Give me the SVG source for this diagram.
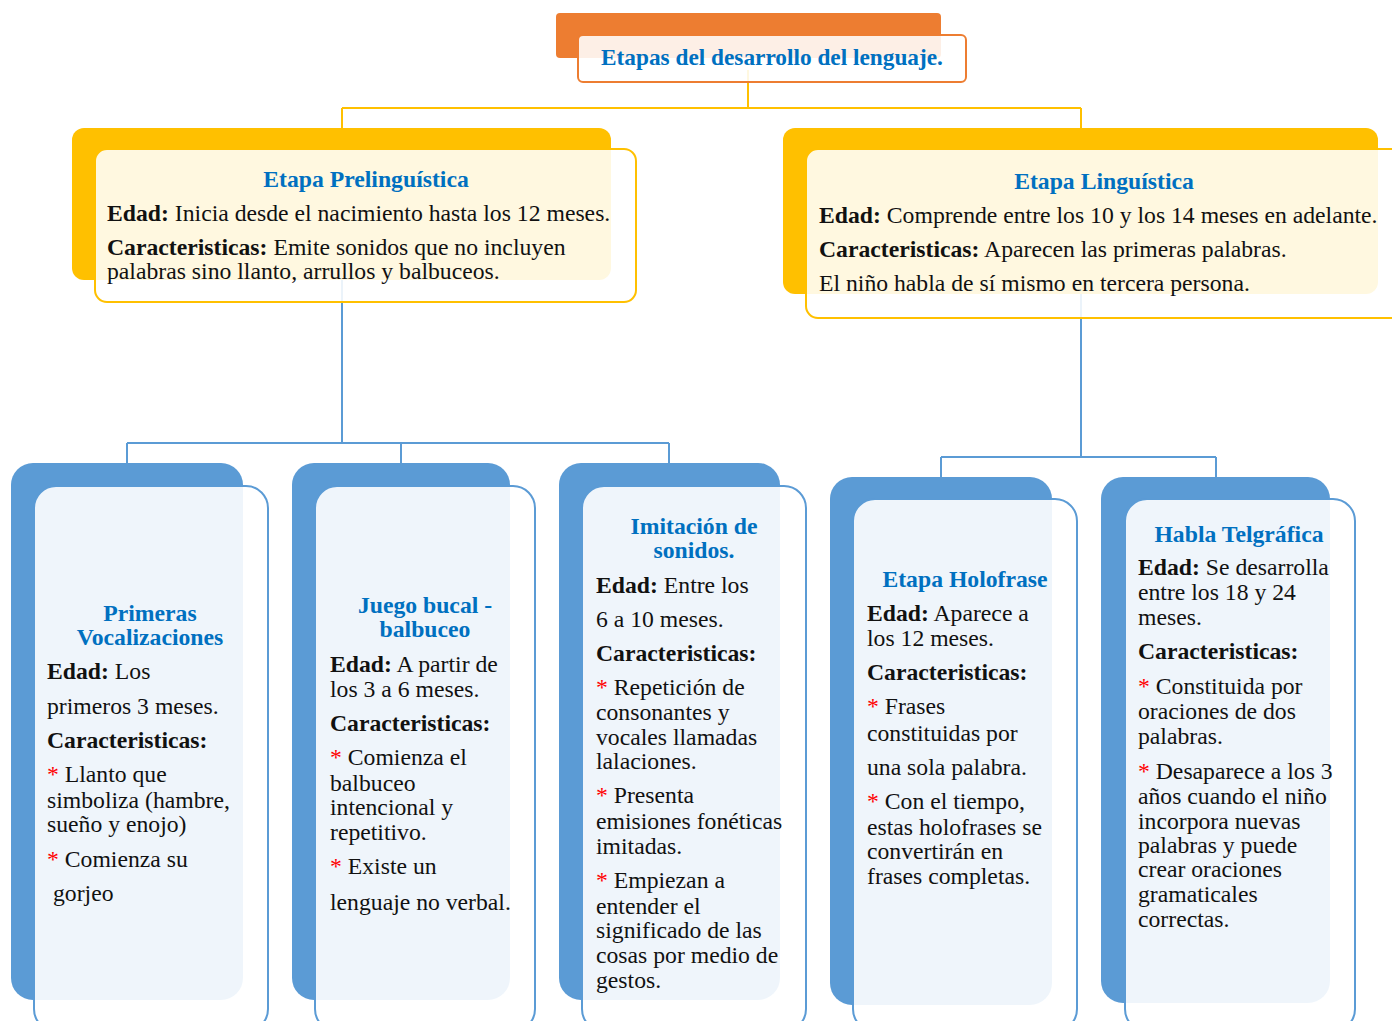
<svg xmlns="http://www.w3.org/2000/svg" width="1392" height="1021" viewBox="0 0 1392 1021">
<style>
text{font-family:"Liberation Serif","Times New Roman",serif;font-size:23.7px;fill:#111}
.t{font-weight:bold;fill:#0070C0;text-anchor:middle}
.b{font-weight:bold}
.r{fill:#FF0000}
.fy{fill:#FFFFFF;fill-opacity:0.88;stroke:#FFC000;stroke-width:2}
.by{fill:#FFC000}
.fb{fill:#FFFFFF;fill-opacity:0.9;stroke:#5B9BD5;stroke-width:2}
.bb{fill:#5B9BD5}
.cy{stroke:#FFC000;stroke-width:2;fill:none}
.cb{stroke:#5B9BD5;stroke-width:2;fill:none}
</style>
<rect width="1392" height="1021" fill="#FFFFFF"/>
<g id="connectors">
<path class="cy" d="M748 70V108M342 108H1081M342 108V130M1081 108V130"/>
<path class="cb" d="M342 280V443M127 443H669M127 443V465M401 443V465M669 443V465"/>
<path class="cb" d="M1081 294V457M941 457H1216M941 457V479M1216 457V479"/>
</g>
<g id="title">
<rect x="556" y="13" width="385" height="45" rx="4" fill="#ED7D31"/>
<rect x="578" y="35" width="388" height="47" rx="5" fill="#FFFFFF" fill-opacity="0.88" stroke="#ED7D31" stroke-width="2"/>
<text class="t" x="772" y="65" style="font-size:23.3px">Etapas del desarrollo del lenguaje.</text>
</g>
<g id="prelinguistica">
<rect class="by" x="72" y="128" width="539" height="152" rx="12"/>
<rect class="fy" x="95" y="149" width="541" height="153" rx="12"/>
<text class="t" x="366" y="187">Etapa Prelinguística</text>
<text x="107" y="221"><tspan class="b">Edad:</tspan> Inicia desde el nacimiento hasta los 12 meses.</text>
<text x="107" y="255"><tspan class="b">Caracteristicas:</tspan> Emite sonidos que no incluyen</text>
<text x="107" y="279">palabras sino llanto, arrullos y balbuceos.</text>
</g>
<g id="linguistica">
<rect class="by" x="783" y="128" width="595" height="166" rx="12"/>
<rect class="fy" x="806" y="149" width="600" height="169" rx="12"/>
<text class="t" x="1104" y="189">Etapa Linguística</text>
<text x="819" y="223"><tspan class="b">Edad:</tspan> Comprende entre los 10 y los 14 meses en adelante.</text>
<text x="819" y="257"><tspan class="b">Caracteristicas:</tspan> Aparecen las primeras palabras.</text>
<text x="819" y="291">El niño habla de sí mismo en tercera persona.</text>
</g>
<g id="vocalizaciones">
<rect class="bb" x="11" y="463" width="232" height="537" rx="22"/>
<rect class="fb" x="34" y="486" width="234" height="545" rx="22"/>
<text class="t" x="150" y="621">Primeras</text>
<text class="t" x="150" y="645">Vocalizaciones</text>
<text x="47" y="679"><tspan class="b">Edad:</tspan> Los</text>
<text x="47" y="714">primeros 3 meses.</text>
<text x="47" y="748" class="b">Caracteristicas:</text>
<text x="47" y="782"><tspan class="r">*</tspan> Llanto que</text>
<text x="47" y="808">simboliza (hambre,</text>
<text x="47" y="832">sueño y enojo)</text>
<text x="47" y="867"><tspan class="r">*</tspan> Comienza su</text>
<text x="53" y="901">gorjeo</text>
</g>
<g id="balbuceo">
<rect class="bb" x="292" y="463" width="218" height="537" rx="22"/>
<rect class="fb" x="315" y="486" width="220" height="545" rx="22"/>
<text class="t" x="425" y="613">Juego bucal -</text>
<text class="t" x="425" y="637">balbuceo</text>
<text x="330" y="672"><tspan class="b">Edad:</tspan> A partir de</text>
<text x="330" y="697">los 3 a 6 meses.</text>
<text x="330" y="731" class="b">Caracteristicas:</text>
<text x="330" y="765"><tspan class="r">*</tspan> Comienza el</text>
<text x="330" y="791">balbuceo</text>
<text x="330" y="815">intencional y</text>
<text x="330" y="840">repetitivo.</text>
<text x="330" y="874"><tspan class="r">*</tspan> Existe un</text>
<text x="330" y="910">lenguaje no verbal.</text>
</g>
<g id="imitacion">
<rect class="bb" x="559" y="463" width="221" height="537" rx="22"/>
<rect class="fb" x="582" y="486" width="224" height="545" rx="22"/>
<text class="t" x="694" y="534">Imitación de</text>
<text class="t" x="694" y="558">sonidos.</text>
<text x="596" y="593"><tspan class="b">Edad:</tspan> Entre los</text>
<text x="596" y="627">6 a 10 meses.</text>
<text x="596" y="661" class="b">Caracteristicas:</text>
<text x="596" y="695"><tspan class="r">*</tspan> Repetición de</text>
<text x="596" y="720">consonantes y</text>
<text x="596" y="745">vocales llamadas</text>
<text x="596" y="769">lalaciones.</text>
<text x="596" y="803"><tspan class="r">*</tspan> Presenta</text>
<text x="596" y="829">emisiones fonéticas</text>
<text x="596" y="854">imitadas.</text>
<text x="596" y="888"><tspan class="r">*</tspan> Empiezan a</text>
<text x="596" y="914">entender el</text>
<text x="596" y="938">significado de las</text>
<text x="596" y="963">cosas por medio de</text>
<text x="596" y="988">gestos.</text>
</g>
<g id="holofrase">
<rect class="bb" x="830" y="477" width="222" height="528" rx="22"/>
<rect class="fb" x="853" y="499" width="224" height="532" rx="22"/>
<text class="t" x="965" y="587">Etapa Holofrase</text>
<text x="867" y="621"><tspan class="b">Edad:</tspan> Aparece a</text>
<text x="867" y="646">los 12 meses.</text>
<text x="867" y="680" class="b">Caracteristicas:</text>
<text x="867" y="714"><tspan class="r">*</tspan> Frases</text>
<text x="867" y="741">constituidas por</text>
<text x="867" y="775">una sola palabra.</text>
<text x="867" y="809"><tspan class="r">*</tspan> Con el tiempo,</text>
<text x="867" y="835">estas holofrases se</text>
<text x="867" y="859">convertirán en</text>
<text x="867" y="884">frases completas.</text>
</g>
<g id="telegrafica">
<rect class="bb" x="1101" y="477" width="229" height="526" rx="22"/>
<rect class="fb" x="1125" y="499" width="230" height="532" rx="22"/>
<text class="t" x="1239" y="542">Habla Telgráfica</text>
<text x="1138" y="575"><tspan class="b">Edad:</tspan> Se desarrolla</text>
<text x="1138" y="600">entre los 18 y 24</text>
<text x="1138" y="625">meses.</text>
<text x="1138" y="659" class="b">Caracteristicas:</text>
<text x="1138" y="694"><tspan class="r">*</tspan> Constituida por</text>
<text x="1138" y="719">oraciones de dos</text>
<text x="1138" y="744">palabras.</text>
<text x="1138" y="779"><tspan class="r">*</tspan> Desaparece a los 3</text>
<text x="1138" y="804">años cuando el niño</text>
<text x="1138" y="829">incorpora nuevas</text>
<text x="1138" y="853">palabras y puede</text>
<text x="1138" y="877">crear oraciones</text>
<text x="1138" y="902">gramaticales</text>
<text x="1138" y="927">correctas.</text>
</g>
</svg>
